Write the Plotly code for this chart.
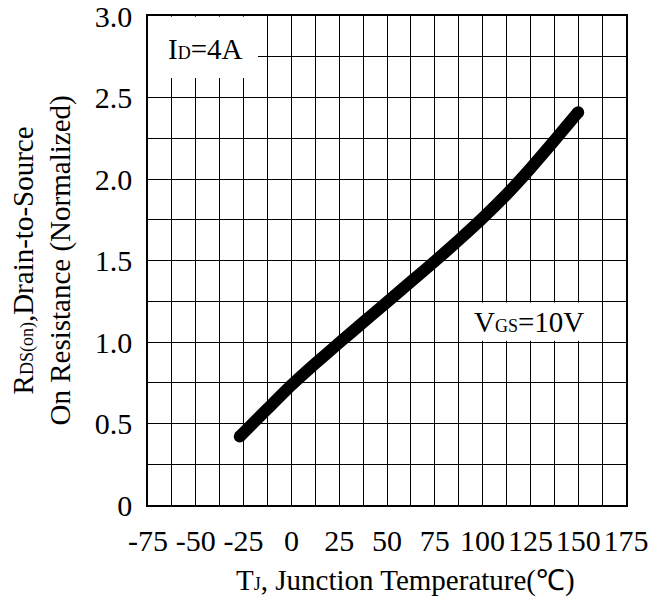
import plotly.graph_objects as go

# Data
temp_c = [-27, -12.5, 0, 12.5, 25, 37.5, 50, 62.5, 75, 87.5, 100, 112.5, 125, 137.5, 150]
rds_norm = [0.42, 0.59, 0.735, 0.868, 0.995, 1.12, 1.245, 1.37, 1.495, 1.625, 1.76, 1.905, 2.065, 2.235, 2.41]

x_tick_vals = [-75, -50, -25, 0, 25, 50, 75, 100, 125, 150, 175]
x_tick_text = ["-75", "-50", "-25", "0", "25", "50", "75", "100", "125", "150", "175"]
y_tick_vals = [0, 0.5, 1.0, 1.5, 2.0, 2.5, 3.0]
y_tick_text = ["0", "0.5", "1.0", "1.5", "2.0", "2.5", "3.0"]

FONT = "Liberation Serif, Times New Roman, serif"
FS = 29
TICK_FS = 30
SUB = 18

fig = go.Figure()
fig.add_trace(go.Scatter(
    x=temp_c, y=rds_norm, mode="lines",
    line=dict(color="black", width=12, shape="spline", smoothing=0.6),
    hoverinfo="skip", showlegend=False,
))
# round end caps
fig.add_trace(go.Scatter(
    x=[temp_c[0], temp_c[-1]], y=[rds_norm[0], rds_norm[-1]], mode="markers",
    marker=dict(color="black", size=12, line=dict(width=0)),
    hoverinfo="skip", showlegend=False,
))

# white boxes behind labels
fig.add_shape(type="rect", xref="x", yref="y", x0=-75, x1=-17.5, y0=2.62, y1=2.995,
              fillcolor="white", line=dict(width=0), layer="between")
fig.add_shape(type="rect", xref="x", yref="y", x0=88.1, x1=161.9, y0=1.008, y1=1.242,
              fillcolor="white", line=dict(width=0), layer="between")

fig.add_annotation(x=-45, y=2.80, xref="x", yref="y", showarrow=False,
                   text=f"I<span style='font-size:{SUB}px'>D</span>=4A",
                   font=dict(family=FONT, size=FS, color="black"))
fig.add_annotation(x=124.5, y=1.12, xref="x", yref="y", showarrow=False,
                   text=f"V<span style='font-size:{SUB}px'>GS</span>=10V",
                   font=dict(family=FONT, size=FS, color="black"))

# axis titles
fig.add_annotation(x=(405 - 148) / 478, y=(505 - 580) / 489, xref="paper", yref="paper",
                   showarrow=False, xanchor="center", yanchor="middle",
                   text=f"T<span style='font-size:{SUB}px'>J</span>, Junction Temperature(℃)",
                   font=dict(family=FONT, size=FS, color="black"))
fig.add_annotation(x=(42 - 148) / 478, y=0.5, xref="paper", yref="paper",
                   showarrow=False, xanchor="center", yanchor="middle", textangle=-90,
                   text=(f"R<span style='font-size:{SUB}px'>DS(on)</span>,Drain-to-Source"
                         "<br>On Resistance (Normalized)"),
                   font=dict(family=FONT, size=FS, color="black"))

fig.update_xaxes(
    range=[-75, 175], tickmode="array", tickvals=x_tick_vals, ticktext=x_tick_text,
    showgrid=True, gridcolor="black", gridwidth=1,
    minor=dict(dtick=12.5, tick0=-75, showgrid=True, gridcolor="black", gridwidth=1),
    showline=True, linecolor="black", linewidth=1.5, mirror=True,
    zeroline=False, ticks="", ticklabelstandoff=8, ticklabeloverflow="allow",
    tickfont=dict(family=FONT, size=TICK_FS, color="black"),
    fixedrange=True,
)
fig.update_yaxes(
    range=[0, 3.0], tickmode="array", tickvals=y_tick_vals, ticktext=y_tick_text,
    showgrid=True, gridcolor="black", gridwidth=1,
    minor=dict(dtick=0.25, tick0=0, showgrid=True, gridcolor="black", gridwidth=1),
    showline=True, linecolor="black", linewidth=1.5, mirror=True,
    zeroline=False, ticks="", ticklabelstandoff=8, ticklabeloverflow="allow",
    tickfont=dict(family=FONT, size=TICK_FS, color="black"),
    fixedrange=True,
)

fig.update_layout(
    width=664, height=602,
    margin=dict(l=148, r=38, t=16, b=97, autoexpand=False),
    plot_bgcolor="white", paper_bgcolor="white",
    font=dict(family=FONT, color="black"),
)

fig.write_html("out.html", config={"displayModeBar": False})
